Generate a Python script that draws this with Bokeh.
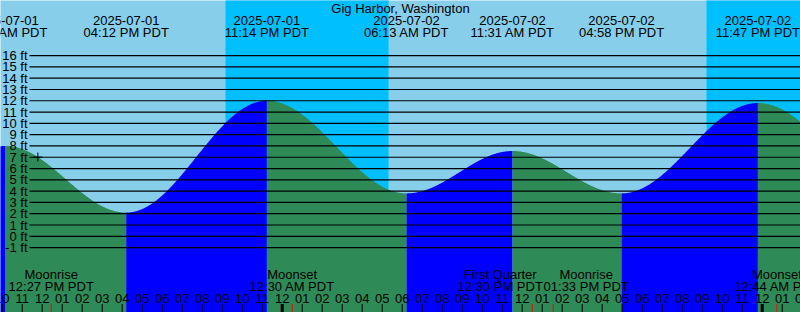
import numpy as np
from bokeh.plotting import figure
from bokeh.models import Range1d
from bokeh.core.properties import value
from bokeh.embed import file_html
from bokeh.resources import INLINE

# ---------------- data ----------------
title = "Gig Harbor, Washington"
# tide extremes (first and last are just outside the visible window, estimated)
tide_times = ["2025-07-01 05:35", "2025-07-01 10:10", "2025-07-01 16:12", "2025-07-01 23:14",
              "2025-07-02 06:13", "2025-07-02 11:31", "2025-07-02 16:58", "2025-07-02 23:47",
              "2025-07-03 06:55"]
tide_heights = [3.6, 8.0, 2.1, 12.0, 3.8, 7.55, 3.8, 11.8, 3.6]
night_starts = ["2025-07-01 21:10", "2025-07-02 21:13"]
night_ends = ["2025-07-02 05:19", "2025-07-03 05:20"]
moon_times = ["2025-07-01 12:27", "2025-07-02 00:30", "2025-07-02 12:30",
              "2025-07-02 13:33", "2025-07-03 00:44"]
moon_names = ["Moonrise", "Moonset", "First Quarter", "Moonrise", "Moonset"]
now_time = "2025-07-01 11:47"
height_ticks = list(range(-1, 17))
REF = np.datetime64("2025-07-02T00:00")

# ---------------- layout ----------------
W, H = 800, 312
PX_PER_HOUR = 20.0
X0PX = 281.7          # pixel of 2025-07-02 00:00
PX_PER_FT = 11.294
Y0PX = 235.8          # pixel of 0 ft (from top)
FONT = value("Liberation Sans")
FS = "13px"
SKY = "#87CEEB"
NIGHT = "#00BFFF"
RISE = "#0000FF"
FALL = "#2E8B57"
label_shift = [0, 0, -32, 33, 0]


def hrs(s):
    return float((np.datetime64(s.replace(" ", "T")) - REF) / np.timedelta64(1, "m") / 60.0)


def xpx(px):
    return (px - X0PX) / PX_PER_HOUR


def ypx(py):
    return (Y0PX - py) / PX_PER_FT


x_start, x_end = xpx(0), xpx(W)
y_bot, y_top = ypx(H), ypx(0)

p = figure(width=W, height=H, x_range=Range1d(x_start, x_end), y_range=Range1d(y_bot, y_top),
           output_backend="svg", toolbar_location=None, min_border=0,
           x_axis_type=None, y_axis_type=None,
           background_fill_color=SKY, border_fill_color=SKY, outline_line_color=None)
p.grid.visible = False

# night bands
p.quad(left=[hrs(s) for s in night_starts], right=[hrs(e) for e in night_ends],
       bottom=y_bot - 5, top=y_top + 5, fill_color=NIGHT, line_color=None)

# tide curve, cosine between extremes
th = [hrs(t) for t in tide_times]


def tide_at(t):
    for i in range(len(th) - 1):
        if th[i] <= t <= th[i + 1]:
            f = (1 + np.cos(np.pi * (t - th[i]) / (th[i + 1] - th[i]))) / 2
            return tide_heights[i + 1] + (tide_heights[i] - tide_heights[i + 1]) * f
    return np.nan


for i in range(len(th) - 1):
    ts = np.linspace(th[i], th[i + 1], 300)
    hs = np.array([tide_at(t) for t in ts])
    col = RISE if tide_heights[i + 1] > tide_heights[i] else FALL
    p.varea(x=ts, y1=np.full_like(ts, y_bot - 5), y2=hs, fill_color=col)

# height grid lines and labels
p.segment(x0=xpx(29), x1=x_end + 1, y0=height_ticks, y1=height_ticks, line_color="black", line_width=1.2)
p.text(x=[xpx(27)] * len(height_ticks), y=height_ticks, text=[f"{v} ft" for v in height_ticks],
       text_align="right", text_baseline="middle", text_font=FONT, text_font_size=FS, text_color="black")

# title
p.text(x=[xpx(W / 2)], y=[ypx(7.5)], text=[title], text_align="center", text_baseline="middle",
       text_font=FONT, text_font_size=FS, text_color="black")

# extreme labels (visible ones)
vis = [i for i in range(len(th)) if x_start - 3 < th[i] < x_end + 3]
dates, times = [], []
for i in vis:
    dt = np.datetime64(tide_times[i].replace(" ", "T")).astype("datetime64[m]").item()
    dates.append(dt.strftime("%Y-%m-%d"))
    times.append(dt.strftime("%I:%M %p PDT"))
p.text(x=[th[i] for i in vis], y=[ypx(19.5)] * len(vis), text=dates, text_align="center",
       text_baseline="middle", text_font=FONT, text_font_size=FS, text_color="black")
p.text(x=[th[i] for i in vis], y=[ypx(31.5)] * len(vis), text=times, text_align="center",
       text_baseline="middle", text_font=FONT, text_font_size=FS, text_color="black")

# hour ticks and labels
hours = list(range(int(np.floor(x_start)), int(np.ceil(x_end)) + 1))
hour_lbls = [f"{((h % 24) % 12) or 12:02d}" for h in hours]
p.text(x=hours, y=[ypx(297.5)] * len(hours), text=hour_lbls, text_align="center", text_baseline="middle",
       text_font=FONT, text_font_size=FS, text_color="black")
reg = [h for h in hours if h % 24 != 0]
mid = [h for h in hours if h % 24 == 0]
p.segment(x0=reg, x1=reg, y0=ypx(H + 2), y1=ypx(303.5), line_color="black", line_width=1)
p.segment(x0=mid, x1=mid, y0=ypx(H + 2), y1=ypx(303.5), line_color="black", line_width=3)

# moon events
mh = [hrs(t) for t in moon_times]
p.segment(x0=mh, x1=mh, y0=ypx(H + 2), y1=ypx(303.5), line_color="red", line_width=1)
for t, name, h, dx in zip(moon_times, moon_names, mh, label_shift):
    dt = np.datetime64(t.replace(" ", "T")).astype("datetime64[m]").item()
    p.text(x=[h], y=[ypx(273.5)], text=[name], x_offset=dx, text_align="center", text_baseline="middle",
           text_font=FONT, text_font_size=FS, text_color="black")
    p.text(x=[h], y=[ypx(285.5)], text=[dt.strftime("%I:%M %p PDT")], x_offset=dx, text_align="center",
           text_baseline="middle", text_font=FONT, text_font_size=FS, text_color="black")

# current-time marker
nh = hrs(now_time)
p.scatter(x=[nh], y=[tide_at(nh)], marker="cross", size=9, line_color="black", line_width=1)

open("out.html", "w").write(file_html(p, INLINE))
